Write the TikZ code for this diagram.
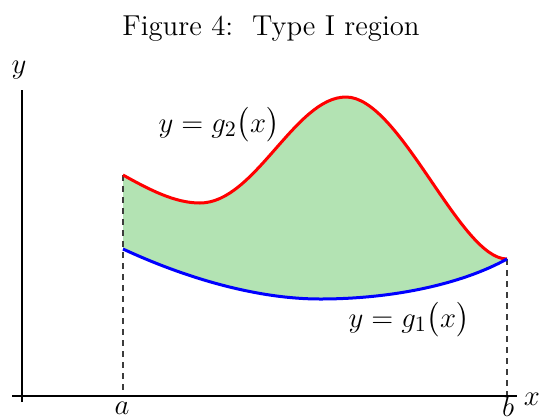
\documentclass[tikz,border=0pt]{standalone}
\usepackage{amsmath}
\definecolor{regiongreen}{RGB}{179,227,179}
\definecolor{dashgray}{RGB}{60,60,60}
\begin{document}
\begin{tikzpicture}[x=0.5pt,y=-0.5pt,
  axis/.style={line width=1pt,black},
  guide/.style={dashgray,line width=0.75pt,dash pattern=on 3pt off 2.5pt},
  upper/.style={red,line width=1.5pt},
  lower/.style={blue,line width=1.5pt},
  curvelabel/.style={inner sep=0pt,font=\fontsize{15}{18}\selectfont},
  axislabel/.style={inner sep=0pt,font=\Large}]
\useasboundingbox (0,0) rectangle (541,419);
% key points
\coordinate (A2) at (123,175);
\coordinate (A1) at (123,249);
\coordinate (B) at (507,259);
\coordinate (Aaxis) at (123,396);
\coordinate (Baxis) at (507,396);
\coordinate (xL) at (12,396);
\coordinate (xR) at (517,396);
\coordinate (yT) at (22,90);
\coordinate (yB) at (22,402);
% region
\fill[regiongreen] (A2) .. controls (150,190) and (175,203) .. (200,203)
  .. controls (255,203) and (295,97) .. (346,97)
  .. controls (400,97) and (460,259) .. (B)
  .. controls (460,285) and (390,299) .. (320,299)
  .. controls (260,299) and (190,280) .. (A1) -- cycle;
% guides
\draw[guide] (A2) -- (Aaxis);
\draw[guide] (B) -- (Baxis);
% axes
\draw[axis] (xL) -- (xR);
\draw[axis] (yB) -- (yT);
% curves
\draw[upper] (A2) .. controls (150,190) and (175,203) .. (200,203)
  .. controls (255,203) and (295,97) .. (346,97)
  .. controls (400,97) and (460,259) .. (B);
\draw[lower] (A1) .. controls (190,280) and (260,299) .. (320,299)
  .. controls (390,299) and (460,285) .. (B);
% labels
\node[font=\Large] (title) at (271,29) {Figure 4:\ \ Type I region};
\node[curvelabel] (g2) at (219,125) {$y = g_2\bigl(x\bigr)$};
\node[curvelabel] (g1) at (409,320) {$y = g_1\bigl(x\bigr)$};
\node[axislabel] (ylab) at (19,70) {$y$};
\node[axislabel] (xlab) at (532,399) {$x$};
\node[axislabel] (alab) at (122,408) {$a$};
\node[axislabel] (blab) at (508,406) {$b$};
\end{tikzpicture}
\end{document}
